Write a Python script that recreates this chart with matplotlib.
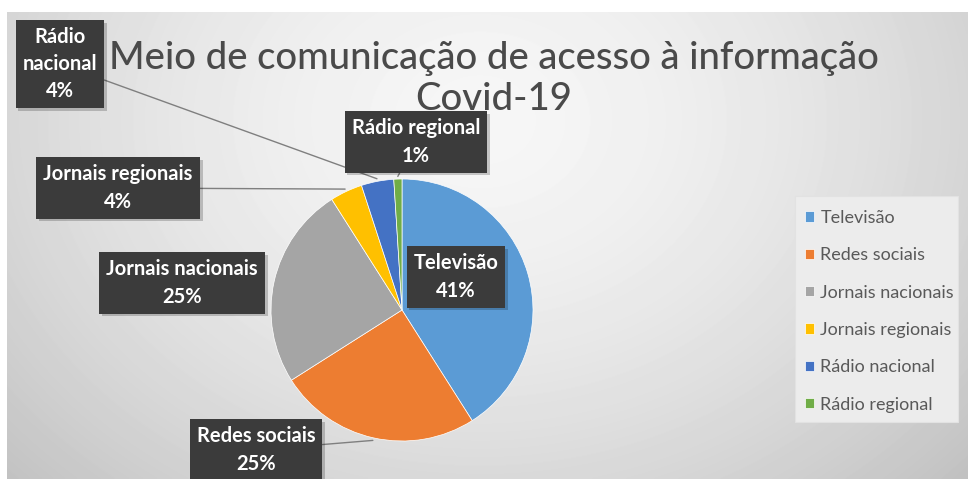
import numpy as np
import matplotlib
matplotlib.use("Agg")
import matplotlib.pyplot as plt
import matplotlib.patheffects as pe
from matplotlib.patches import Rectangle

plt.rcParams["font.family"] = ["Lato", "DejaVu Sans"]

# ----------------------------
# Data
# ----------------------------
categories = ["Televisão", "Redes sociais", "Jornais nacionais",
              "Jornais regionais", "Rádio nacional", "Rádio regional"]
shares = [41, 25, 25, 4, 4, 1]
colors = ["#5B9BD5", "#ED7D31", "#A5A5A5", "#FFC000", "#4472C4", "#70AD47"]

# label text for each slice: name broken across lines the way the boxes show it
label_names = ["Televisão", "Redes sociais", "Jornais nacionais",
               "Jornais regionais", "Rádio\nnacional", "Rádio regional"]

W, H = 968, 479
fig = plt.figure(figsize=(W / 100, H / 100), dpi=100)
fig.patch.set_facecolor("white")

# ----------------------------
# Background with soft radial shading
# ----------------------------
bg = fig.add_axes([7 / W, 0, (W - 7) / W, (H - 12) / H])
yy, xx = np.mgrid[12:H, 7:W]
d = np.hypot(xx - 480, (yy - 120) * 1.25)
shade = np.clip(0.965 - 0.16 * (d / 560) ** 1.6, 0, 1)
bg.imshow(shade, cmap="gray", vmin=0, vmax=1, aspect="auto", interpolation="bilinear")
bg.axis("off")

# ----------------------------
# Pie
# ----------------------------
cx, cy, r = 402, 310, 131
ax = fig.add_axes([(cx - r) / W, (H - cy - r) / H, 2 * r / W, 2 * r / H])
ax.patch.set_visible(False)
wedges, _ = ax.pie(shares, colors=colors, startangle=90, counterclock=False,
                   radius=1, wedgeprops=dict(edgecolor="white", linewidth=0.5))
ax.set_xlim(-1, 1)
ax.set_ylim(-1, 1)

# ----------------------------
# Data labels (dark boxes)
# ----------------------------
box = dict(boxstyle="square,pad=0.35", fc="#3b3b3b", ec="none")
lab_kw = dict(ha="center", va="center", fontsize=14.5, fontweight="bold",
              linespacing=1.45, color="white", bbox=box, zorder=5)
label_pos = {
    "Televisão": (456, 277),
    "Redes sociais": (256, 450),
    "Jornais nacionais": (182, 283),
    "Jornais regionais": (118, 188),
    "Rádio nacional": (60, 64),
    "Rádio regional": (416, 142),
}
no_leader = {"Televisão", "Jornais nacionais"}
box_shadow = [pe.withSimplePatchShadow(offset=(2, -2), shadow_rgbFace="black", alpha=0.2)]

total = sum(shares)
cum = 0
for name, lab, val in zip(categories, label_names, shares):
    mid = 90 - 360 * (cum + val / 2) / total
    cum += val
    txt = f"{lab}\n{round(100 * val / total)}%"
    px, py = label_pos[name]
    if name in no_leader:
        t = fig.text(px / W, 1 - py / H, txt, **lab_kw)
    else:
        a = np.deg2rad(mid)
        t = ax.annotate(txt, xy=(1.02 * np.cos(a), 1.02 * np.sin(a)), xycoords="data",
                        xytext=(px, H - py), textcoords="figure pixels",
                        annotation_clip=False,
                        arrowprops=dict(arrowstyle="-", color="#7f7f7f", lw=1,
                                        shrinkA=0, shrinkB=0),
                        **lab_kw)
    t.get_bbox_patch().set_path_effects(box_shadow)

# ----------------------------
# Title and legend
# ----------------------------
fig.text(494 / W, 1 - 79 / H, "Meio de comunicação de acesso à informação\nCovid-19",
         ha="center", va="center", fontsize=27.5, fontweight="medium",
         color="#4a4a4a", linespacing=1.22)

# legend panel
fig.patches.append(Rectangle((795 / W, 1 - 422 / H), 163 / W, 226 / H,
                             transform=fig.transFigure, fc="#ececec",
                             ec="#e2e2e2", lw=0.8, zorder=1))

fig.legend(wedges, categories, loc="upper left",
           bbox_to_anchor=(805 / W, 1 - 210 / H), frameon=False,
           handlelength=0.5, handleheight=0.5, handletextpad=0.35,
           labelspacing=1.18, borderpad=0, borderaxespad=0,
           fontsize=13, labelcolor="#595959")

plt.savefig("out.png", dpi=100)
